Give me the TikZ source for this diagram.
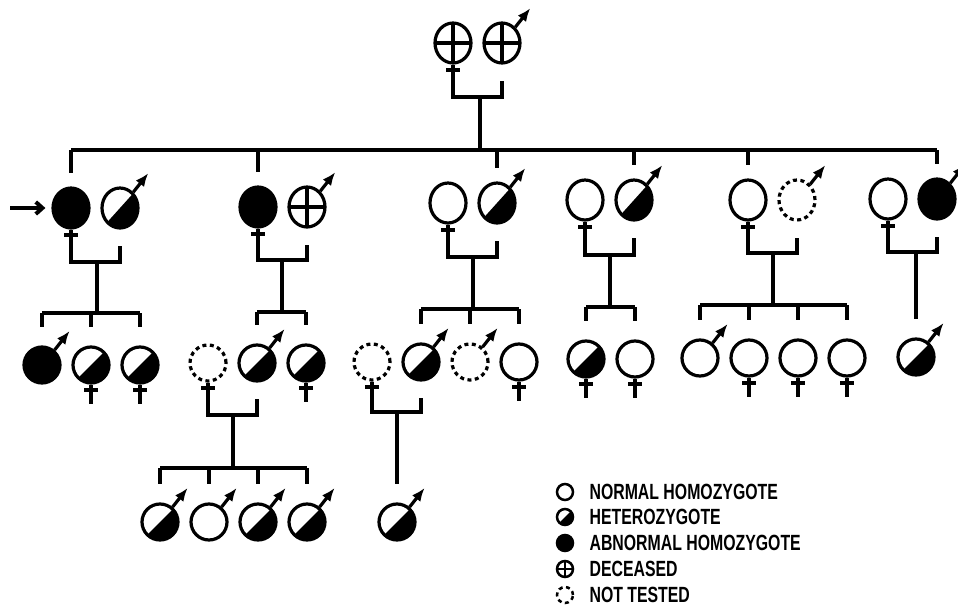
\documentclass[tikz,border=0pt]{standalone}
\usepackage{fontspec}
\setmainfont{Liberation Sans}
\usepackage{graphicx}
\usetikzlibrary{arrows.meta, positioning, shapes.geometric}

\begin{document}
\begin{tikzpicture}[x=0.75pt, y=-0.75pt, node distance=36.75pt, on grid, line width=2.4pt,
person/.style={draw, ellipse, inner sep=0pt, minimum width=27pt, minimum height=27pt},
tall/.style={minimum height=30pt},
affected/.style={fill=black},
carrier/.style={path picture={\fill (path picture bounding box.south west) -- (path picture bounding box.north east) -- (path picture bounding box.south east) -- cycle;}},
deceased/.style={path picture={\draw (path picture bounding box.north) -- (path picture bounding box.south) (path picture bounding box.west) -- (path picture bounding box.east);}},
untested/.style={dash pattern=on 3pt off 2.6pt},
keysym/.style={person, minimum width=12pt, minimum height=12pt, line width=1.9pt},
keytext/.style={anchor=west, inner sep=0pt, font=\fontsize{16.5}{19}\selectfont\bfseries},
malearrow/.style={solid, -{Latex[length=10pt, width=8pt]}},
proband/.style={line width=3pt, -{Straight Barb[length=5pt, width=9pt]}}]

\useasboundingbox (0,0) rectangle (958,607);

% generation I
\node (f0) [person, tall, deceased] at (453,43) {};
\node (m0) [person, tall, deceased, right=of f0] {};

% generation II
\node (f1) [person, tall, affected] at (71,208) {};
\node (m1) [person, tall, carrier, right=of f1] {};
\node (f2) [person, tall, affected] at (258,207) {};
\node (m2) [person, tall, deceased, right=of f2] {};
\node (f3) [person, tall] at (448,203) {};
\node (m3) [person, tall, carrier, right=of f3] {};
\node (f4) [person, tall] at (585,200) {};
\node (m4) [person, tall, carrier, right=of f4] {};
\node (f5) [person, tall] at (748,200) {};
\node (m5) [person, tall, untested, right=of f5] {};
\node (f6) [person, tall] at (888,199) {};
\node (m6) [person, tall, affected, right=of f6] {};

% generation III
\node (a1) [person, affected] at (42,365) {};
\node (a2) [person, carrier, right=of a1] {};
\node (a3) [person, carrier, right=of a2] {};
\node (w1) [person, untested] at (208,363) {};
\node (b1) [person, carrier, right=of w1] {};
\node (b2) [person, carrier, right=of b1] {};
\node (w2) [person, untested] at (372,362) {};
\node (d1) [person, carrier, right=of w2] {};
\node (d2) [person, untested, right=of d1] {};
\node (d3) [person, right=of d2] {};
\node (e1) [person, carrier] at (586,359) {};
\node (e2) [person, right=of e1] {};
\node (g1) [person] at (700,358) {};
\node (g2) [person, right=of g1] {};
\node (g3) [person, right=of g2] {};
\node (g4) [person, right=of g3] {};
\node (h1) [person, carrier] at (916,357) {};

% generation IV
\node (k1) [person, carrier] at (160,522) {};
\node (k2) [person, right=of k1] {};
\node (k3) [person, carrier, right=of k2] {};
\node (k4) [person, carrier, right=of k3] {};
\node (l1) [person, carrier] at (397,522) {};

% sex signs
\foreach \m in {m0,m1,m2,m3,m4,m5,m6,a1,b1,d1,d2,g1,h1,k1,k2,k3,k4,l1}
  \draw [malearrow] (\m.50) -- ++(15,-19);
\foreach \f in {f0,f1,f2,f3,f4,f5,f6,a2,a3,w1,b2,w2,d3,e1,e2,g2,g3,g4}
  \draw (\f.south) -- ++(0,19) ([yshift=-4pt]\f.south) ++(-7,0) -- ++(14,0);

\draw [proband] ([xshift=-31pt]f1.west) -- ([xshift=-4.5pt]f1.west);

% matings and sibships
\coordinate (c0) at (480,97);
\coordinate (c1) at (97,262);
\coordinate (c2) at (282,260);
\coordinate (c3) at (473,257);
\coordinate (c4) at (610,255);
\coordinate (c5) at (773,253);
\coordinate (c6) at (916,252);
\coordinate (c7) at (233,415);
\coordinate (c8) at (397,412);
\coordinate (s0) at (480,150);
\coordinate (s1) at (97,313);
\coordinate (s2) at (282,312);
\coordinate (s3) at (473,309);
\coordinate (s4) at (610,307);
\coordinate (s5) at (773,305);
\coordinate (s6) at (233,468);

\foreach \f/\m/\c in {f0/m0/c0, f1/m1/c1, f2/m2/c2, f3/m3/c3, f4/m4/c4, f5/m5/c5, f6/m6/c6, w1/b1/c7, w2/d1/c8}
  \draw ([yshift=-12pt]\f.south) |- (\c) -| ([yshift=-12pt]\m.south);
\foreach \c/\s in {c0/s0, c1/s1, c2/s2, c3/s3, c4/s4, c5/s5, c7/s6}
  \draw (\c) -- (\s);
\draw (c6) -- ([yshift=14pt]h1.north);
\draw (c8) -- ([yshift=14pt]l1.north);

\draw (f1 |- s0) -- (m6 |- s0);
\foreach \k in {f1,f2,m3,m4,f5,m6}
  \draw (\k |- s0) -- ([yshift=10pt]\k.north);
\foreach \s/\a/\b in {s1/a1/a3, s2/b1/b2, s3/d1/d3, s4/e1/e2, s5/g1/g4, s6/k1/k4}
  \draw (\a |- \s) -- (\b |- \s);
\foreach \s/\k in {s1/a1, s1/a2, s1/a3, s2/b1, s2/b2, s3/d1, s3/d2, s3/d3, s4/e1, s4/e2,
    s5/g1, s5/g2, s5/g3, s5/g4, s6/k1, s6/k2, s6/k3, s6/k4}
  \draw (\k |- \s) -- ([yshift=14pt]\k.north);

% key
\node (n1) [keysym] at (565,492) {};
\node (n2) [keysym, carrier] at (565,517) {};
\node (n3) [keysym, affected] at (565,543) {};
\node (n4) [keysym, deceased] at (565,569) {};
\node (n5) [keysym, untested] at (565,595) {};
\node (t1) [keytext] at (588,492) {\scalebox{0.72}[1]{NORMAL HOMOZYGOTE}};
\node (t2) [keytext] at (588,517) {\scalebox{0.72}[1]{HETEROZYGOTE}};
\node (t3) [keytext] at (588,543) {\scalebox{0.72}[1]{ABNORMAL HOMOZYGOTE}};
\node (t4) [keytext] at (588,569) {\scalebox{0.72}[1]{DECEASED}};
\node (t5) [keytext] at (588,595) {\scalebox{0.72}[1]{NOT TESTED}};
\end{tikzpicture}
\end{document}
